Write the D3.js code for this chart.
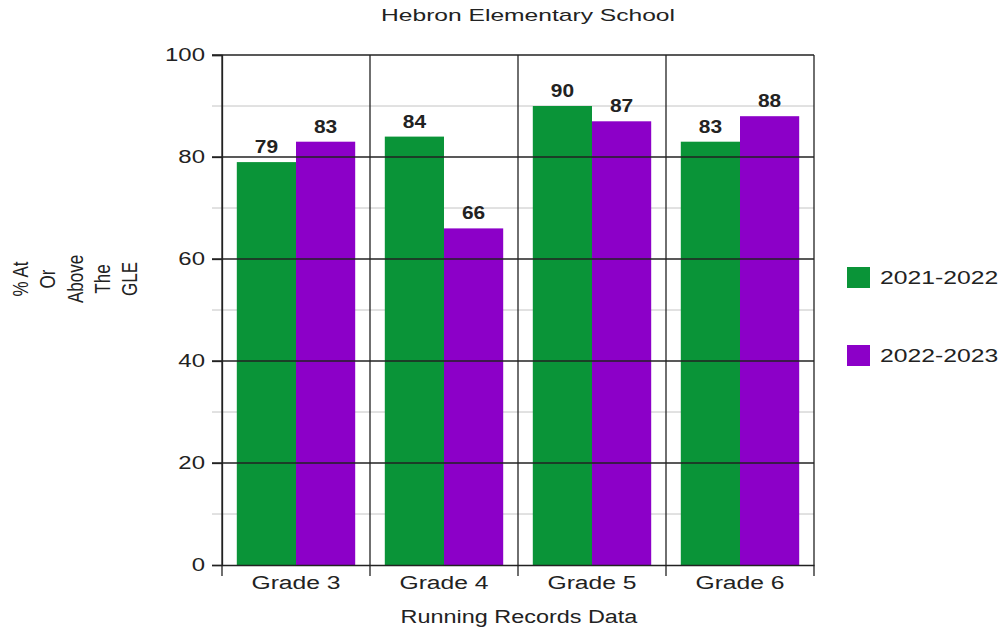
<!DOCTYPE html>
<html><head><meta charset="utf-8">
<script src="https://cdn.jsdelivr.net/npm/d3@7"></script>
<style>body{margin:0;background:#fff}svg{display:block;font-family:"Liberation Sans",Arial,sans-serif}</style>
</head><body><svg id="c" width="1000" height="629"></svg>
<script>
const categories = ["Grade 3","Grade 4","Grade 5","Grade 6"];
const seriesNames = ["2021-2022","2022-2023"];
const values2021 = [79,84,90,83];
const values2022 = [83,66,87,88];
const yTicks = [0,20,40,60,80,100];
const minorTicks = [10,30,50,70,90];
const colors = ["#0a9438","#8c00c8"];
const yLabelLines = ["% At","Or","Above","The","GLE"];

const svg = d3.select("#c");
const L=222,R=814,T=55,B=565;
const x = d3.scaleBand().domain(categories).range([L,R]).padding(0);
const xs = d3.scaleBand().domain(seriesNames).range([0,x.bandwidth()]).paddingInner(0).paddingOuter(0.25);
const y = d3.scaleLinear().domain([0,100]).range([B,T]);
const col = d3.scaleOrdinal().domain(seriesNames).range(colors);

function stretch(sel,k){ sel.each(function(){ const w=this.getComputedTextLength(); this.setAttribute("textLength", w*k); this.setAttribute("lengthAdjust","spacingAndGlyphs"); }); }

// minor grid
svg.append("g").selectAll("line").data(minorTicks).join("line")
  .attr("x1",L-10).attr("x2",R).attr("y1",d=>y(d)).attr("y2",d=>y(d))
  .attr("stroke","#c4c4c4").attr("stroke-width",1);

// bars
const data = categories.map((c,i)=>({cat:c, vals:[values2021[i],values2022[i]]}));
const g = svg.append("g").selectAll("g").data(data).join("g").attr("transform",d=>`translate(${x(d.cat)},0)`);
g.selectAll("rect").data(d=>d.vals.map((v,j)=>({s:seriesNames[j],v}))).join("rect")
  .attr("x",d=>xs(d.s)).attr("width",xs.bandwidth()).attr("y",d=>y(d.v)).attr("height",d=>B-y(d.v)).attr("fill",d=>col(d.s));

// major grid
svg.append("g").selectAll("line").data(yTicks.filter(d=>d>0)).join("line")
  .attr("x1",L-10).attr("x2",R).attr("y1",d=>y(d)).attr("y2",d=>y(d))
  .attr("stroke","#222").attr("stroke-width",1.3);
// y axis
const yAx = svg.append("g").attr("transform",`translate(${L},0)`).call(d3.axisLeft(y).tickValues(yTicks).tickSize(10).tickPadding(7));
yAx.select(".domain").attr("stroke","#222").attr("stroke-width",1.3);
yAx.selectAll(".tick line").attr("stroke","#222").attr("stroke-width",1.3);
yAx.selectAll("text").attr("font-size",18).attr("fill","#222").attr("font-family","Liberation Sans, Arial, sans-serif").call(stretch,1.33);
// x axis
const xAx = svg.append("g").attr("transform",`translate(0,${B})`).call(d3.axisBottom(x).tickSize(0).tickPadding(11));
xAx.select(".domain").attr("stroke","#222").attr("stroke-width",1.3);
xAx.selectAll("text").attr("font-size",18).attr("fill","#222").attr("font-family","Liberation Sans, Arial, sans-serif").call(stretch,1.37);
// separators
const seps = categories.map(c=>x(c)).concat([R]);
svg.append("g").selectAll("line").data(seps).join("line")
  .attr("x1",d=>d).attr("x2",d=>d).attr("y1",T).attr("y2",B+11)
  .attr("stroke","#222").attr("stroke-width",1.3);

// value labels
g.selectAll("text.v").data(d=>d.vals.map((v,j)=>({s:seriesNames[j],v}))).join("text").attr("class","v")
  .attr("x",d=>xs(d.s)+xs.bandwidth()/2).attr("y",d=>y(d.v)-9).attr("text-anchor","middle")
  .attr("font-size",19).attr("font-weight","bold").attr("fill","#222").text(d=>d.v).call(stretch,1.1);

// title
svg.append("text").attr("x",528).attr("y",21).attr("text-anchor","middle").attr("font-size",17).attr("fill","#222").text("Hebron Elementary School").attr("textLength",294).attr("lengthAdjust","spacingAndGlyphs");
svg.append("text").attr("x",519).attr("y",623).attr("text-anchor","middle").attr("font-size",18).attr("fill","#222").text("Running Records Data").call(stretch,1.3);
// y label
svg.append("g").selectAll("text").data(yLabelLines).join("text")
  .attr("transform",(d,i)=>`translate(${28+i*27.3},279) scale(1.3,1) rotate(-90)`).attr("text-anchor","middle")
  .attr("font-size",17).attr("fill","#222").text(d=>d);

// legend
const lg = svg.append("g").selectAll("g").data(seriesNames).join("g").attr("transform",(d,i)=>`translate(847,${267+i*78})`);
lg.append("rect").attr("width",23).attr("height",21).attr("fill",d=>col(d));
lg.append("text").attr("x",33).attr("y",17).attr("font-size",19).attr("fill","#222").text(d=>d).call(stretch,1.3);
</script></body></html>
